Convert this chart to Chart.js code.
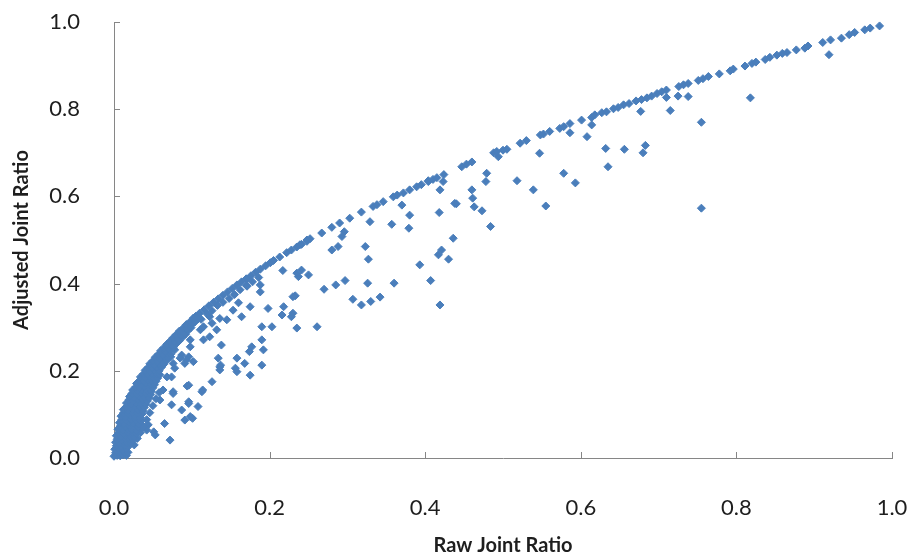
<!DOCTYPE html>
<html>
<head>
<meta charset="utf-8">
<title>Raw vs Adjusted Joint Ratio</title>
<script src="https://cdn.jsdelivr.net/npm/chart.js@4/dist/chart.umd.min.js"></script>
<style>
  html, body { margin: 0; padding: 0; background: #ffffff; }
  #wrap { width: 912px; height: 557px; }
</style>
</head>
<body>
<div id="wrap"><canvas id="chart" width="912" height="557"></canvas></div>
<script>
// Axis tick values and titles
const tickValues = [0.0, 0.2, 0.4, 0.6, 0.8, 1.0];
const xTitle = 'Raw Joint Ratio';
const yTitle = 'Adjusted Joint Ratio';

// [raw joint ratio, adjusted joint ratio] pairs

// dense group of pairs close to the origin
const coreCluster = [
  [0.000,0.004],[0.004,0.006],[0.008,0.005],[0.012,0.007],[0.016,0.006],
  [0.002,0.012],[0.006,0.013],[0.010,0.011],[0.014,0.012],[0.018,0.013],
  [0.001,0.020],[0.006,0.021],[0.011,0.019],[0.016,0.022],
  [0.003,0.028],[0.009,0.027],[0.014,0.029],[0.019,0.028],[0.026,0.030],
  [0.002,0.036],[0.007,0.034],[0.012,0.037],[0.017,0.035],[0.022,0.033],
  [0.004,0.043],[0.010,0.042],[0.015,0.044],[0.020,0.043],[0.025,0.041],[0.030,0.045],
  [0.003,0.051],[0.009,0.049],[0.015,0.052],[0.021,0.050],[0.026,0.048],
  [0.006,0.058],[0.012,0.057],[0.018,0.059],[0.024,0.058],[0.029,0.056],[0.034,0.058],
  [0.005,0.066],[0.011,0.064],[0.017,0.067],[0.023,0.065],[0.029,0.063],
  [0.008,0.073],[0.014,0.072],[0.020,0.074],[0.026,0.073],[0.031,0.071],[0.038,0.072],
  [0.007,0.081],[0.013,0.079],[0.019,0.082],[0.025,0.080],[0.032,0.078],
  [0.010,0.088],[0.016,0.087],[0.022,0.089],[0.028,0.088],[0.034,0.086],[0.042,0.088],
  [0.009,0.096],[0.015,0.094],[0.021,0.097],[0.027,0.095],[0.034,0.093],
  [0.012,0.103],[0.018,0.102],[0.024,0.104],[0.030,0.103],[0.036,0.101],[0.046,0.104],
  [0.012,0.111],[0.018,0.109],[0.024,0.112],[0.031,0.110],[0.037,0.108],
  [0.016,0.118],[0.021,0.117],[0.027,0.119],[0.033,0.118],[0.039,0.116],[0.050,0.120],
  [0.016,0.126],[0.022,0.124],[0.028,0.127],[0.035,0.125],[0.041,0.123],
  [0.019,0.133],[0.025,0.132],[0.031,0.134],[0.037,0.133],[0.043,0.131],[0.054,0.136],
  [0.020,0.141],[0.026,0.139],[0.032,0.142],[0.039,0.140],[0.045,0.138],
  [0.023,0.148],[0.029,0.147],[0.035,0.149],[0.041,0.148],[0.047,0.146],[0.058,0.150],
  [0.024,0.156],[0.030,0.154],[0.036,0.157],[0.043,0.155],[0.048,0.153],
  [0.028,0.163],[0.033,0.162],[0.039,0.164],[0.045,0.163],[0.050,0.161],
  [0.029,0.171],[0.035,0.169],[0.041,0.172],[0.047,0.170],[0.052,0.168],
  [0.033,0.178],[0.038,0.177],[0.044,0.179],[0.049,0.178],[0.054,0.176],
  [0.034,0.186],[0.040,0.184],[0.046,0.187],[0.051,0.185],[0.056,0.183],
  [0.038,0.193],[0.043,0.192],[0.049,0.194],[0.055,0.193],[0.059,0.191],
  [0.040,0.201],[0.046,0.199],[0.052,0.202],[0.058,0.200],
  [0.044,0.208],[0.049,0.207],[0.055,0.209],[0.061,0.208],
  [0.046,0.216],[0.052,0.214],[0.058,0.217],[0.064,0.215],
  [0.050,0.223],[0.056,0.222],[0.062,0.224],[0.067,0.223],
  [0.053,0.231],[0.059,0.229],[0.065,0.232],[0.070,0.230],
  [0.057,0.238],[0.063,0.237],[0.069,0.239],[0.073,0.238],
  [0.060,0.246],[0.066,0.244],[0.072,0.247],
  [0.064,0.253],[0.070,0.252],[0.076,0.254],
  [0.068,0.261],[0.074,0.259],[0.080,0.262],
  [0.072,0.268],[0.078,0.267],[0.084,0.269],
  [0.076,0.276],[0.082,0.274],[0.088,0.277],
  [0.080,0.283],[0.086,0.282],[0.092,0.284],
  [0.084,0.291],[0.090,0.289],[0.095,0.292],
  [0.089,0.298],[0.094,0.297],[0.099,0.299],
  [0.093,0.306],[0.099,0.304],
  [0.098,0.313],[0.104,0.312],
  [0.102,0.321],[0.108,0.319]
];

// pairs along the upper edge of the cloud
const upperEdge = [
  [0.105,0.325],[0.110,0.332],[0.116,0.340],[0.122,0.349],[0.128,0.357],[0.134,0.365],
  [0.140,0.373],[0.146,0.381],[0.152,0.389],[0.158,0.397],[0.164,0.404],[0.170,0.411],
  [0.176,0.418],[0.182,0.426],[0.188,0.433],[0.195,0.441],[0.201,0.448],[0.205,0.453],
  [0.213,0.461],[0.222,0.471],[0.228,0.477],[0.235,0.484],[0.241,0.490],[0.248,0.497],
  [0.252,0.503],[0.267,0.516],[0.280,0.529],[0.290,0.539],[0.303,0.550],[0.318,0.564],
  [0.333,0.577],[0.338,0.581],[0.346,0.588],[0.359,0.599],[0.364,0.603],[0.372,0.608],
  [0.380,0.615],[0.389,0.622],[0.395,0.627],[0.404,0.634],[0.410,0.639],[0.415,0.643],
  [0.424,0.650],[0.447,0.668],[0.453,0.674],[0.460,0.679],[0.488,0.700],[0.492,0.703],
  [0.500,0.706],[0.505,0.708],[0.522,0.722],[0.530,0.728],[0.548,0.741],[0.552,0.743],
  [0.560,0.749],[0.573,0.756],[0.578,0.760],[0.586,0.767],[0.601,0.775],[0.614,0.781],
  [0.618,0.787],[0.627,0.792],[0.633,0.794],[0.642,0.801],[0.648,0.804],[0.655,0.810],
  [0.662,0.813],[0.671,0.819],[0.678,0.822],[0.685,0.826],[0.691,0.830],[0.698,0.836],
  [0.704,0.840],[0.710,0.844],[0.726,0.852],[0.732,0.856],[0.738,0.859],[0.751,0.866],
  [0.757,0.870],[0.764,0.875],[0.778,0.881],[0.792,0.888],[0.796,0.892],[0.811,0.899],
  [0.820,0.905],[0.825,0.908],[0.837,0.914],[0.843,0.919],[0.852,0.924],[0.859,0.928],
  [0.865,0.930],[0.877,0.936],[0.888,0.940],[0.892,0.945],[0.911,0.953],[0.921,0.959],
  [0.935,0.963],[0.945,0.971],[0.952,0.976],[0.965,0.982],[0.972,0.986],[0.984,0.991]
];

// pairs just under the upper edge
const nearEdge = [
  [0.112,0.318],[0.120,0.330],[0.126,0.338],[0.133,0.350],[0.140,0.357],[0.148,0.366],
  [0.155,0.375],[0.162,0.386],[0.170,0.396],[0.178,0.404],[0.186,0.414]
];

// scattered pairs, low ratios
const lowScatter = [
  [0.072,0.041],[0.053,0.053],[0.042,0.064],[0.033,0.064],[0.051,0.060],[0.044,0.076],
  [0.036,0.076],[0.033,0.083],[0.065,0.079],[0.091,0.087],[0.101,0.091],[0.098,0.095],
  [0.087,0.110],[0.108,0.118],[0.096,0.125],[0.096,0.129],[0.074,0.122],[0.059,0.133],
  [0.113,0.152],[0.076,0.152],[0.063,0.156],[0.114,0.156],[0.094,0.165],[0.096,0.167],
  [0.126,0.175],[0.068,0.186],[0.074,0.186],[0.076,0.148],[0.078,0.206],[0.136,0.209],
  [0.091,0.217],[0.076,0.217],[0.102,0.221],[0.087,0.236],[0.073,0.232],[0.085,0.229],
  [0.096,0.232],[0.093,0.225],[0.134,0.229],[0.078,0.248],[0.098,0.255],[0.138,0.259],
  [0.115,0.271],[0.098,0.271],[0.111,0.294],[0.115,0.301],[0.123,0.278],[0.132,0.294],
  [0.126,0.309],[0.123,0.324],[0.136,0.320],[0.145,0.317],[0.153,0.339],[0.160,0.356],
  [0.164,0.324],[0.175,0.347],[0.171,0.394],[0.171,0.410],[0.188,0.397],[0.188,0.381],
  [0.198,0.343],[0.218,0.347],[0.190,0.301],[0.203,0.301],[0.216,0.328],[0.228,0.324],
  [0.230,0.332],[0.235,0.298],[0.261,0.301],[0.190,0.271],[0.177,0.255],[0.174,0.244],
  [0.192,0.248],[0.190,0.213],[0.168,0.217],[0.158,0.229],[0.156,0.206],[0.175,0.190],
  [0.158,0.198],[0.137,0.213],[0.136,0.202]
];

// scattered pairs, middle ratios
const midScatter = [
  [0.217,0.430],[0.237,0.416],[0.235,0.424],[0.241,0.431],[0.250,0.420],[0.233,0.372],
  [0.230,0.370],[0.239,0.489],[0.248,0.500],[0.270,0.387],[0.285,0.397],[0.297,0.407],
  [0.280,0.477],[0.288,0.485],[0.296,0.519],[0.293,0.508],[0.307,0.364],[0.318,0.351],
  [0.330,0.359],[0.342,0.369],[0.326,0.401],[0.360,0.401],[0.323,0.485],[0.327,0.456],
  [0.329,0.542],[0.357,0.536],[0.370,0.580],[0.380,0.557],[0.379,0.527],[0.393,0.443],
  [0.407,0.407],[0.419,0.351],[0.404,0.636],[0.419,0.615],[0.418,0.563],[0.440,0.583],
  [0.436,0.504],[0.421,0.477],[0.417,0.466],[0.430,0.456],[0.423,0.634],[0.438,0.584]
];

// scattered pairs, high ratios
const highScatter = [
  [0.479,0.653],[0.478,0.634],[0.460,0.615],[0.461,0.596],[0.463,0.576],[0.473,0.567],
  [0.484,0.531],[0.547,0.699],[0.494,0.691],[0.518,0.636],[0.539,0.615],[0.555,0.578],
  [0.578,0.653],[0.593,0.631],[0.608,0.737],[0.614,0.764],[0.586,0.746],[0.632,0.710],
  [0.656,0.708],[0.635,0.668],[0.683,0.717],[0.680,0.700],[0.677,0.795],[0.715,0.797],
  [0.755,0.770],[0.755,0.573],[0.710,0.827],[0.725,0.830],[0.738,0.829],[0.818,0.826],
  [0.919,0.925]
];

const markerBlue = '#4a7ebb';
const axisGray = '#868686';
const textColor = '#1e1e1e';

const groups = [coreCluster, upperEdge, nearEdge, lowScatter, midScatter, highScatter];
const datasets = groups.map(g => ({
  data: g.map(([x, y]) => ({ x, y })),
  pointStyle: 'rectRot',
  pointRadius: 4,
  pointHoverRadius: 4,
  pointBorderWidth: 1,
  pointBackgroundColor: markerBlue,
  pointBorderColor: markerBlue,
  showLine: false,
  clip: false
}));

// short tick marks pointing into the plot area
const innerTicks = {
  id: 'innerTicks',
  beforeDatasetsDraw(chart) {
    const { ctx, chartArea, scales: { x, y } } = chart;
    ctx.save();
    ctx.strokeStyle = axisGray;
    ctx.lineWidth = 1;
    ctx.beginPath();
    x.ticks.forEach(t => {
      const px = Math.round(x.getPixelForValue(t.value)) + 0.5;
      ctx.moveTo(px, chartArea.bottom);
      ctx.lineTo(px, chartArea.bottom - 6);
    });
    y.ticks.forEach(t => {
      const py = Math.round(y.getPixelForValue(t.value)) + 0.5;
      ctx.moveTo(chartArea.left, py);
      ctx.lineTo(chartArea.left + 6, py);
    });
    ctx.stroke();
    ctx.restore();
  }
};

Chart.defaults.font.family = 'Lato, "Open Sans", sans-serif';
Chart.defaults.color = textColor;

const tickFont = { size: 22 };
const titleFont = { size: 20, weight: 'bold', lineHeight: 1.1 };

new Chart(document.getElementById('chart'), {
  type: 'scatter',
  data: { datasets },
  plugins: [innerTicks],
  options: {
    responsive: false,
    animation: false,
    events: [],
    layout: { padding: { top: 22, right: 20, left: 0, bottom: 0 } },
    plugins: { legend: { display: false }, tooltip: { enabled: false } },
    scales: {
      x: {
        type: 'linear',
        min: tickValues[0],
        max: tickValues[tickValues.length - 1],
        afterBuildTicks: s => { s.ticks = tickValues.map(v => ({ value: v })); },
        afterFit: s => { s.height = 99; s.paddingLeft = 0; s.paddingRight = 0; },
        grid: { display: false },
        border: { display: true, color: axisGray, width: 1 },
        ticks: { font: tickFont, padding: 29, maxRotation: 0, callback: v => Number(v).toFixed(1) },
        title: { display: true, text: xTitle, font: titleFont, padding: { top: 0, bottom: 0 } }
      },
      y: {
        type: 'linear',
        min: tickValues[0],
        max: tickValues[tickValues.length - 1],
        afterBuildTicks: s => { s.ticks = tickValues.map(v => ({ value: v })); },
        afterFit: s => { s.width = 114; s.paddingTop = 0; s.paddingBottom = 0; },
        grid: { display: false },
        border: { display: true, color: axisGray, width: 1 },
        ticks: { font: tickFont, padding: 26, callback: v => Number(v).toFixed(1) },
        title: { display: true, text: yTitle, font: titleFont, padding: { top: 11, bottom: 0 } }
      }
    }
  }
});
</script>
</body>
</html>
